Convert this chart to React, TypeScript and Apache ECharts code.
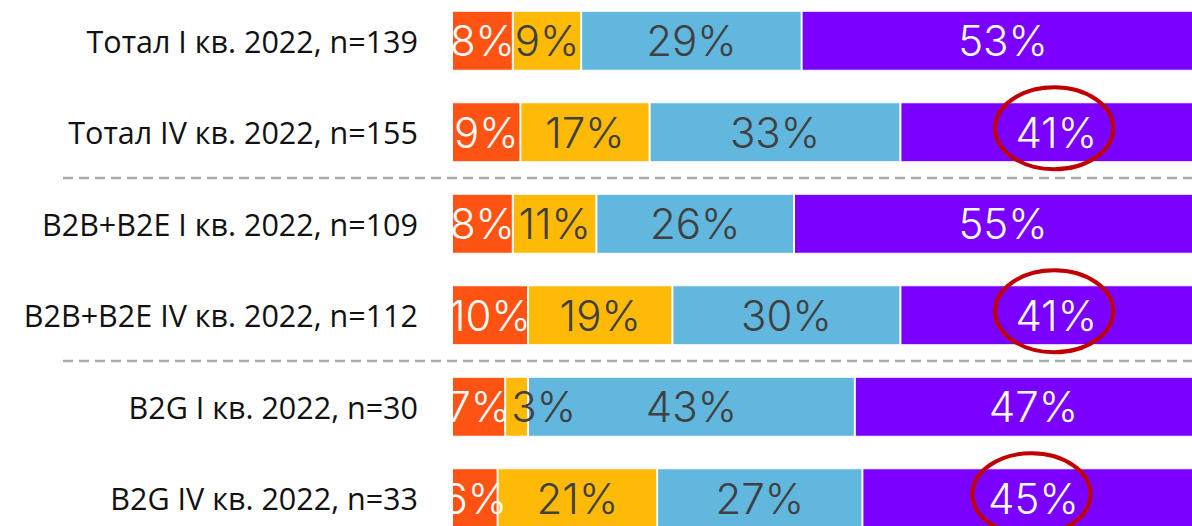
import React, { useEffect, useRef } from "react";
import * as echarts from "echarts";

const categories = [
  "Тотал I кв. 2022, n=139",
  "Тотал IV кв. 2022, n=155",
  "B2B+B2E I кв. 2022, n=109",
  "B2B+B2E IV кв. 2022, n=112",
  "B2G I кв. 2022, n=30",
  "B2G IV кв. 2022, n=33",
];
const seriesA = [8, 9, 8, 10, 7, 6];
const seriesB = [9, 17, 11, 19, 3, 21];
const seriesC = [29, 33, 26, 30, 43, 27];
const seriesD = [53, 41, 55, 41, 47, 45];
const circledRows = [1, 3, 5];
const separatorsAfter = [1, 3];

const colors = ["#FF5314", "#FFBA08", "#62B7DE", "#7A00FF"];
const labelColors = ["#ffffff", "#404040", "#404040", "#ffffff"];
const allSeries = [seriesA, seriesB, seriesC, seriesD];

export default function App() {
  const ref = useRef<HTMLDivElement>(null);
  useEffect(() => {
    if (!ref.current) return;
    const chart = echarts.init(ref.current, null, { renderer: "svg" });
    chart.setOption({
      animation: false,
      grid: { left: 452, right: 0, top: 0, bottom: 0 },
      xAxis: { type: "value", min: 0, max: 100, show: false },
      yAxis: {
        type: "category",
        data: categories,
        inverse: true,
        axisLine: { show: false },
        axisTick: { show: false },
        axisLabel: {
          margin: 34,
          fontSize: 30.5,
          color: "#111111",
          fontFamily: "Open Sans",
        },
      },
      series: allSeries.map((data, i) => ({
        type: "bar",
        stack: "total",
        barWidth: 60,
        data: data.map((v) =>
          v < 5
            ? { value: v, label: { position: "insideLeft", distance: 6 } }
            : v
        ),
        itemStyle: { color: colors[i], borderColor: "#ffffff", borderWidth: 1 },
        label: {
          show: true,
          position: "inside",
          formatter: "{c}%",
          fontSize: 42,
          fontWeight: 300,
          fontFamily: "Inter",
          color: labelColors[i],
        },
      })),
    });

    const graphics: any[] = [];
    graphics.push({
      type: "rect",
      shape: { x: 424, y: 0, width: 26.5, height: 560 },
      style: { fill: "#ffffff" },
      z: 50,
    });
    separatorsAfter.forEach((i) => {
      const y1 = chart.convertToPixel({ yAxisIndex: 0 }, categories[i]) as number;
      const y2 = chart.convertToPixel({ yAxisIndex: 0 }, categories[i + 1]) as number;
      const y = (y1 + y2) / 2;
      graphics.push({
        type: "line",
        shape: { x1: 63, y1: y, x2: 1212, y2: y },
        style: { stroke: "#AAAAAA", lineWidth: 2.5, lineDash: [10, 6] },
        z: 60,
      });
    });
    circledRows.forEach((r) => {
      const start = seriesA[r] + seriesB[r] + seriesC[r];
      const cx = chart.convertToPixel({ xAxisIndex: 0 }, start + seriesD[r] / 2) as number;
      const cy = chart.convertToPixel({ yAxisIndex: 0 }, categories[r]) as number;
      graphics.push({
        type: "ellipse",
        shape: { cx: cx - 2, cy: cy - 4, rx: 59, ry: 41 },
        style: { fill: "none", stroke: "#C00000", lineWidth: 4 },
        z: 100,
      });
    });
    chart.setOption({ graphic: graphics });

    return () => chart.dispose();
  }, []);
  return (
    <div
      ref={ref}
      style={{ position: "fixed", left: 0, top: -5, width: 1212, height: 549, background: "#ffffff" }}
    />
  );
}
